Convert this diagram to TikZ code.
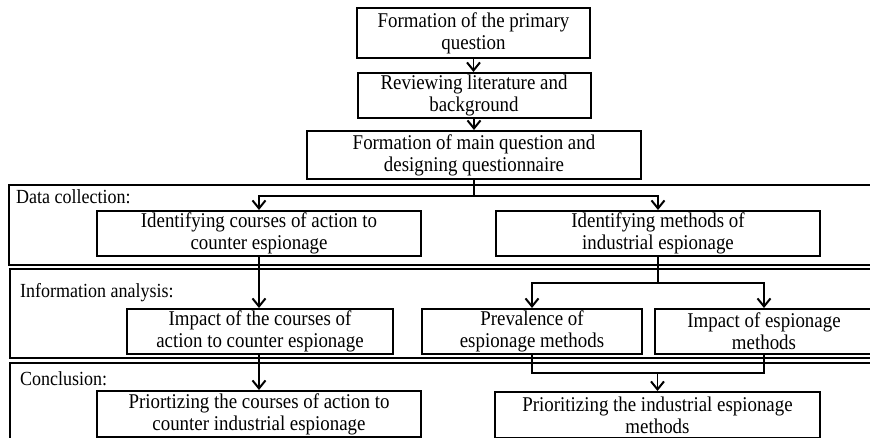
\documentclass[tikz,border=0pt]{standalone}
\usepackage{fontspec}
\setmainfont{Liberation Serif}
\newfontfamily\narrowserif[FakeStretch=0.9]{Liberation Serif}
\usetikzlibrary{arrows.meta}
\begin{document}
\begin{tikzpicture}[x=1pt,y=-1pt,
  box/.style={draw, line width=2pt, fill=white, inner sep=0pt, align=center,
    font=\narrowserif\fontsize{21}{22}\selectfont},
  frame/.style={draw, line width=2.2pt},
  conn/.style={line width=1.8pt},
  arr/.style={conn, -{Straight Barb[length=8pt,width=13pt,line width=2pt]}},
  lbl/.style={anchor=base west, inner sep=0pt, font=\narrowserif\fontsize{20}{21}\selectfont}]
\useasboundingbox (0,0) rectangle (870,438);
\clip (0,0) rectangle (870,438);
% frames
\draw[frame] (9,185) rectangle (885,265);
\draw[frame] (10,269) rectangle (885,358);
\draw[frame] (10,363) rectangle (885,450);
\node[lbl] (l1) at (16,204) {Data collection:};
\node[lbl] (l2) at (20,298) {Information analysis:};
\node[lbl] (l3) at (20,385) {Conclusion:};
% boxes
\node[box, minimum width=233pt, minimum height=50pt] (b1) at (473.5,33) {Formation of the primary\\question};
\node[box, minimum width=233pt, minimum height=45pt] (b2) at (474,95.5) {Reviewing literature and\\background};
\node[box, minimum width=334pt, minimum height=48pt] (b3) at (474,155) {Formation of main question and\\designing questionnaire};
\node[box, minimum width=324pt, minimum height=45pt] (d1) at (259,233.5) {Identifying courses of action to\\counter espionage};
\node[box, minimum width=324pt, minimum height=45pt] (d2) at (658,233.5) {Identifying methods of\\industrial espionage};
\node[box, minimum width=266pt, minimum height=45pt] (a1) at (260,331.5) {Impact of the courses of\\action to counter espionage};
\node[box, minimum width=220pt, minimum height=45pt] (a2) at (532,331.5) {Prevalence of\\espionage methods};
\node[box, minimum width=218pt, minimum height=45pt] (a3) at (764,331.5) {Impact of espionage\\methods};
\node[box, minimum width=324pt, minimum height=46pt] (c1) at (259,414) {Priortizing the courses of action to\\counter industrial espionage};
\node[box, minimum width=325pt, minimum height=46pt] (c2) at (657.5,415) {Prioritizing the industrial espionage\\methods};
% junctions
\coordinate (j1) at (0,196);
\coordinate (j2) at (0,283);
\coordinate (j3) at (0,373);
% connectors
\draw[arr] (b1.south) -- (b1.south |- b2.north);
\draw[arr] (b2.south) -- (b2.south |- b3.north);
\draw[arr] (b3.south) -- (b3.south |- j1) -| (d1.north);
\draw[arr] (b3.south |- j1) -| (d2.north);
\draw[arr] (d1.south) -- (d1.south |- a1.north);
\draw[arr] (d2.south) -- (d2.south |- j2) -| (a2.north);
\draw[arr] (d2.south |- j2) -| (a3.north);
\draw[arr] (a1.south -| d1.south) -- (d1.south |- c1.north);
\draw[conn] (a2.south) |- (j3 -| a3.south) -- (a3.south);
\draw[arr] (j3 -| c2.north) -- (c2.north);
\end{tikzpicture}
\end{document}
